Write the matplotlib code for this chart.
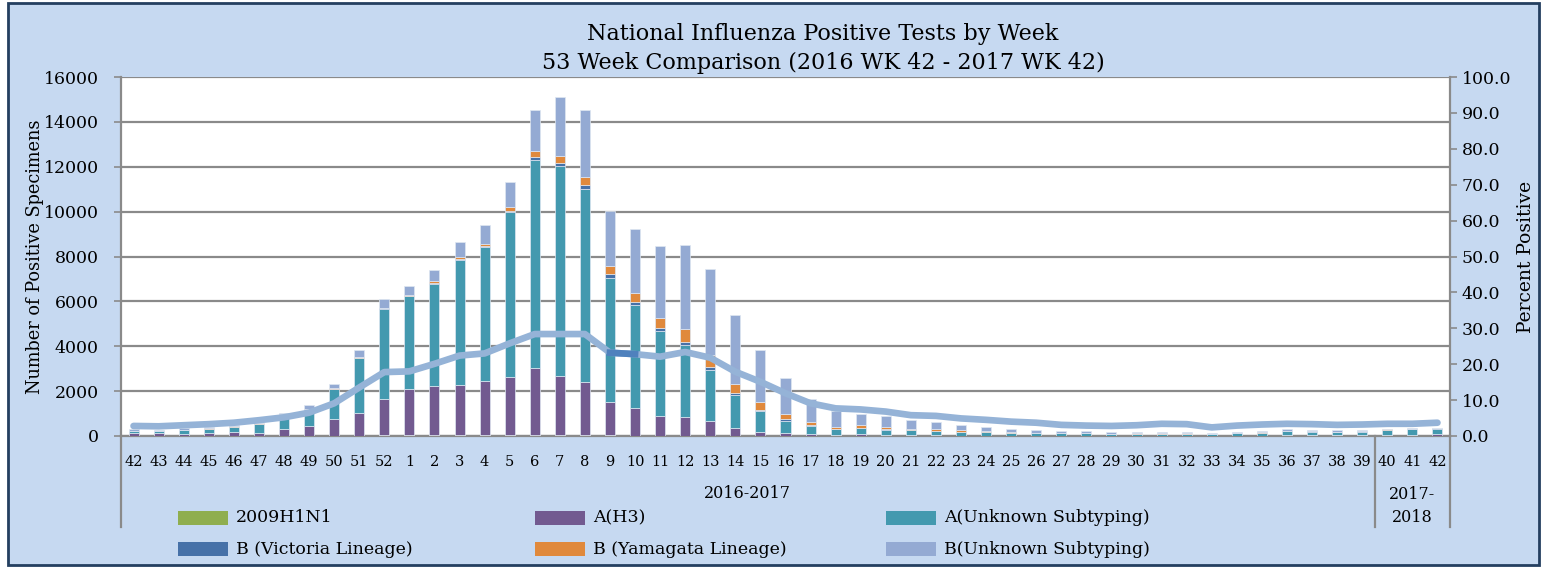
import matplotlib
matplotlib.use("Agg")
import matplotlib.pyplot as plt
from matplotlib.patches import Rectangle
import numpy as np

plt.rcParams['font.family'] = ['DejaVu Serif']

# week labels, 2016 WK 42 .. 2017 WK 42
weeks = list(range(42, 53)) + list(range(1, 43))

h1n1 = [5, 5, 5, 5, 5, 5, 10, 10, 15, 20, 25, 30, 30, 30, 30, 40, 60, 60, 60, 30,
        20, 15, 15, 10, 10, 5, 5, 5, 5, 5, 5, 3, 3, 3, 3, 3, 3, 3, 3, 3,
        3, 3, 3, 3, 3, 3, 5, 5, 5, 5, 5, 5, 5]
a_h3 = [125, 115, 85, 145, 165, 145, 320, 430, 740, 1000, 1630, 2060, 2210, 2254, 2433, 2588,
        2970, 2600, 2345, 1478, 1249, 881, 836, 647, 348, 189, 115, 85, 35, 65,
        45, 27, 27, 17, 17, 12, 12, 12, 12, 7, 7, 7, 12, 7, 12, 17, 35, 25, 20, 25,
        35, 40, 65]
a_unk = [110, 100, 160, 180, 250, 400, 620, 720, 1320, 2440, 4000, 4136, 4550, 5550, 5970, 7345,
         9290, 9360, 8600, 5550, 4570, 3780, 3200, 2300, 1450, 900, 570, 360, 260, 270,
         230, 220, 200, 170, 150, 130, 110, 100, 100, 80, 85, 90, 60, 60, 100, 130, 170, 170,
         140, 170, 240, 250, 260]
b_vic = [0, 0, 0, 0, 0, 0, 5, 10, 10, 15, 30, 20, 30, 40, 40, 75, 120, 150, 180, 150,
         150, 120, 150, 130, 100, 60, 60, 40, 20, 20, 20, 10, 10, 10, 10, 5, 5, 5, 5, 5,
         5, 5, 5, 5, 5, 5, 10, 5, 5, 5, 5, 5, 5]
b_yam = [5, 5, 5, 5, 10, 10, 10, 40, 40, 50, 30, 60, 75, 110, 100, 180, 240, 310, 360, 360,
         370, 450, 550, 540, 420, 360, 240, 150, 100, 120, 100, 70, 70, 60, 50, 30, 25, 20,
         20, 15, 15, 10, 40, 10, 10, 10, 10, 5, 10, 10, 5, 5, 5]
b_unk = [80, 40, 85, 65, 50, 40, 80, 150, 200, 310, 390, 380, 500, 680, 830, 1090, 1860, 2610,
         2980, 2450, 2870, 3220, 3760, 3800, 3060, 2330, 1600, 1000, 700, 500, 490, 380, 310,
         230, 155, 115, 95, 80, 80, 70, 60, 60, 70, 50, 50, 55, 65, 40, 70, 65, 35, 35, 30]
pct_pos = [2.8, 2.7, 3.0, 3.3, 3.7, 4.4, 5.2, 6.5, 9.1, 13.5, 17.8, 18.0, 20.1, 22.4, 23.0,
           25.8, 28.4, 28.4, 28.4, 23.2, 22.8, 22.1, 23.4, 21.8, 17.9, 15.1, 11.9, 9.1, 7.7,
           7.4, 6.8, 5.8, 5.6, 4.9, 4.5, 4.0, 3.7, 3.1, 2.9, 2.8, 3.0, 3.4, 3.3, 2.4, 2.9,
           3.2, 3.4, 3.3, 3.1, 3.2, 3.4, 3.4, 3.7]

series_names = ["2009H1N1", "A(H3)", "A(Unknown Subtyping)",
                "B (Victoria Lineage)", "B (Yamagata Lineage)", "B(Unknown Subtyping)"]
series_vals = [h1n1, a_h3, a_unk, b_vic, b_yam, b_unk]
colors = ["#8fae4f", "#725a90", "#4399af", "#4671a8", "#e0893c", "#94aad3"]

season_labels = ["2016-2017", "2017-\n2018"]
season_split = 50  # first index of the 2017-2018 season

W, H = 1546, 569
fig = plt.figure(figsize=(W / 100, H / 100), dpi=100, facecolor="white")
fig.patches.append(Rectangle((8 / W, 4 / H), 1531 / W, 562 / H, transform=fig.transFigure,
                             facecolor="#c6d9f1", edgecolor="#243f60", lw=2, zorder=-10))

ax = fig.add_axes([121 / W, 1 - 436 / H, 1329 / W, 359 / H])
ax.set_facecolor("white")
x = np.arange(len(weeks))
bottom = np.zeros(len(weeks))
for name, vals, c in zip(series_names, series_vals, colors):
    ax.bar(x, vals, width=0.4, bottom=bottom, color=c, edgecolor="#dfe7f2",
           linewidth=0.5, label=name, zorder=3)
    bottom += np.array(vals)

ax.set_xlim(-0.5, len(weeks) - 0.5)
ax.set_ylim(0, 16000)
ax.set_yticks(np.arange(0, 16001, 2000))
ax.yaxis.grid(True, color="#8a8a8a", lw=1.6, zorder=0)
ax.set_xticks(x)
ax.set_xticklabels([str(w) for w in weeks], fontsize=10.5)
ax.tick_params(axis="x", length=0, pad=14)
ax.tick_params(axis="y", labelsize=12.5, length=5, color="#8a8a8a", width=1.2, pad=11)
for s in ["top", "right"]:
    ax.spines[s].set_visible(False)
for s in ["left", "bottom"]:
    ax.spines[s].set_color("#8a8a8a")
    ax.spines[s].set_linewidth(1.6)
ax.set_ylabel("Number of Positive Specimens", fontsize=12.8, labelpad=0)

ax2 = ax.twinx()
ax2.plot(x, pct_pos, color="#95b3d7", lw=4.8, solid_capstyle="round", zorder=5)
ax2.plot(x[19:21], pct_pos[19:21], color="#4f81bd", lw=4.8, zorder=6)
ax2.set_ylim(0, 100)
ax2.set_yticks(np.arange(0, 101, 10))
ax2.set_yticklabels(["%.1f" % v for v in np.arange(0, 101, 10)])
ax2.tick_params(axis="y", labelsize=12.5, length=5, color="#8a8a8a", width=1.2, pad=3.5)
for s in ["top", "left", "bottom"]:
    ax2.spines[s].set_visible(False)
ax2.spines["right"].set_color("#8a8a8a")
ax2.spines["right"].set_linewidth(1.6)
ax2.set_ylabel("Percent Positive", fontsize=13.5, labelpad=4)

# season grouping lines and labels under the week axis
low = -91 / 359
for xb in [-0.5, season_split - 0.5, len(weeks) - 0.5]:
    ax.plot([xb, xb], [0, low], transform=ax.get_xaxis_transform(), color="#8a8a8a",
            lw=1.6, clip_on=False)
ax.text((season_split - 1) / 2, -58 / 359, season_labels[0], transform=ax.get_xaxis_transform(),
        ha="center", va="center", fontsize=11.5)
ax.text((season_split + len(weeks) - 1) / 2, -70 / 359, season_labels[1],
        transform=ax.get_xaxis_transform(), ha="center", va="center", fontsize=11.5,
        linespacing=1.5)

fig.text(823 / W, 1 - 34 / H, "National Influenza Positive Tests by Week", ha="center",
         va="center", fontsize=16)
fig.text(823 / W, 1 - 63 / H, "53 Week Comparison (2016 WK 42 - 2017 WK 42)", ha="center",
         va="center", fontsize=16)

# legend, 3 columns x 2 rows
col_x = [178, 535, 886]
row_y = [518, 549]
for i, (name, c) in enumerate(zip(series_names, colors)):
    cx = col_x[i % 3]
    cy = row_y[i // 3]
    fig.patches.append(Rectangle((cx / W, 1 - (cy + 7) / H), 50 / W, 14 / H,
                                 transform=fig.transFigure, facecolor=c, edgecolor="none"))
    fig.text((cx + 58) / W, 1 - cy / H, name, ha="left", va="center", fontsize=12.5)

fig.savefig("out.png", dpi=100, facecolor="white")
